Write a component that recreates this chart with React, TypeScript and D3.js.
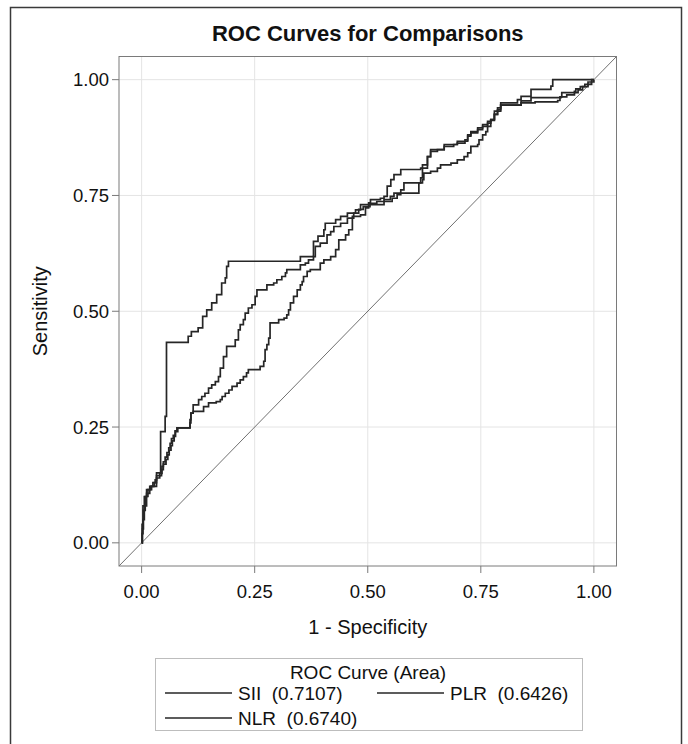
import React from "react";
import * as d3 from "d3";

type Pt = [number, number];

const TITLE = "ROC Curves for Comparisons";
const X_LABEL = "1 - Specificity";
const Y_LABEL = "Sensitivity";
const TICKS = [0, 0.25, 0.5, 0.75, 1];
const LEGEND_TITLE = "ROC Curve (Area)";
const SERIES_NAMES = ["SII", "NLR", "PLR"];
const SERIES_AUC = ["0.7107", "0.6740", "0.6426"];

const SII: Pt[] = [
  [0, 0], [0.001, 0.04], [0.003, 0.08], [0.006, 0.1], [0.011, 0.115], [0.02, 0.122], [0.033, 0.151],
  [0.042, 0.24], [0.052, 0.273], [0.055, 0.433], [0.103, 0.446], [0.11, 0.456], [0.125, 0.464],
  [0.135, 0.489], [0.144, 0.503], [0.155, 0.518], [0.166, 0.536], [0.177, 0.561], [0.185, 0.572],
  [0.188, 0.597], [0.192, 0.608], [0.351, 0.618], [0.38, 0.651], [0.39, 0.662], [0.403, 0.676],
  [0.406, 0.69], [0.429, 0.698], [0.44, 0.705], [0.455, 0.712], [0.473, 0.719], [0.484, 0.73],
  [0.502, 0.734], [0.506, 0.741], [0.528, 0.744], [0.536, 0.748], [0.543, 0.77], [0.551, 0.784],
  [0.558, 0.795], [0.573, 0.806], [0.617, 0.809], [0.621, 0.816], [0.632, 0.834], [0.639, 0.849],
  [0.669, 0.86], [0.698, 0.867], [0.721, 0.881], [0.728, 0.888], [0.743, 0.896], [0.754, 0.903],
  [0.765, 0.91], [0.772, 0.914], [0.78, 0.932], [0.787, 0.939], [0.794, 0.95], [0.831, 0.957],
  [0.839, 0.964], [0.861, 0.979], [0.905, 0.986], [0.909, 1.0], [1, 1],
];

const NLR: Pt[] = [
  [0, 0], [0.002, 0.03], [0.004, 0.07], [0.008, 0.1], [0.011, 0.107], [0.018, 0.122], [0.025, 0.13],
  [0.03, 0.136], [0.033, 0.145], [0.04, 0.15], [0.045, 0.165], [0.048, 0.175], [0.052, 0.185],
  [0.056, 0.195], [0.06, 0.205], [0.063, 0.215], [0.066, 0.225], [0.07, 0.232], [0.074, 0.242],
  [0.078, 0.248], [0.107, 0.259], [0.109, 0.28], [0.114, 0.298], [0.126, 0.309], [0.133, 0.316],
  [0.14, 0.323], [0.148, 0.334], [0.155, 0.341], [0.163, 0.348], [0.17, 0.359], [0.174, 0.377],
  [0.181, 0.402], [0.188, 0.424], [0.207, 0.438], [0.214, 0.46], [0.218, 0.471], [0.225, 0.482],
  [0.229, 0.496], [0.236, 0.507], [0.244, 0.514], [0.251, 0.532], [0.255, 0.546], [0.277, 0.557],
  [0.292, 0.561], [0.299, 0.568], [0.31, 0.575], [0.318, 0.583], [0.321, 0.59], [0.351, 0.6],
  [0.362, 0.604], [0.369, 0.611], [0.38, 0.618], [0.384, 0.64], [0.395, 0.647], [0.41, 0.665],
  [0.418, 0.672], [0.425, 0.683], [0.44, 0.69], [0.455, 0.701], [0.469, 0.712], [0.48, 0.72],
  [0.49, 0.726], [0.505, 0.733], [0.52, 0.737], [0.536, 0.741], [0.55, 0.748], [0.558, 0.755],
  [0.573, 0.762], [0.58, 0.777], [0.617, 0.788], [0.621, 0.809], [0.632, 0.834], [0.639, 0.845],
  [0.654, 0.849], [0.669, 0.856], [0.69, 0.86], [0.698, 0.863], [0.715, 0.87], [0.721, 0.878],
  [0.728, 0.885], [0.743, 0.892], [0.754, 0.899], [0.765, 0.906], [0.772, 0.912], [0.78, 0.925],
  [0.787, 0.932], [0.794, 0.945], [0.839, 0.954], [0.861, 0.961], [0.927, 0.963], [0.929, 0.972],
  [0.957, 0.975], [0.96, 0.98], [0.97, 0.985], [0.98, 0.99], [0.987, 0.995], [1, 1],
];

const PLR: Pt[] = [
  [0, 0], [0.001, 0.02], [0.003, 0.05], [0.006, 0.08], [0.011, 0.1], [0.014, 0.115], [0.022, 0.122],
  [0.028, 0.13], [0.033, 0.14], [0.04, 0.145], [0.044, 0.158], [0.048, 0.17], [0.054, 0.18],
  [0.058, 0.19], [0.061, 0.2], [0.065, 0.21], [0.068, 0.22], [0.072, 0.23], [0.075, 0.24],
  [0.08, 0.248], [0.107, 0.266], [0.109, 0.28], [0.114, 0.284], [0.137, 0.294], [0.148, 0.302],
  [0.165, 0.305], [0.174, 0.309], [0.178, 0.316], [0.185, 0.323], [0.193, 0.33], [0.2, 0.338],
  [0.211, 0.345], [0.218, 0.352], [0.225, 0.359], [0.232, 0.367], [0.236, 0.374], [0.262, 0.381],
  [0.27, 0.392], [0.273, 0.417], [0.277, 0.428], [0.281, 0.442], [0.284, 0.475], [0.303, 0.482],
  [0.315, 0.485], [0.321, 0.492], [0.325, 0.503], [0.329, 0.518], [0.336, 0.532], [0.344, 0.546],
  [0.351, 0.557], [0.355, 0.564], [0.358, 0.575], [0.366, 0.586], [0.373, 0.59], [0.395, 0.604],
  [0.403, 0.611], [0.418, 0.618], [0.429, 0.633], [0.436, 0.654], [0.451, 0.665], [0.458, 0.676],
  [0.466, 0.705], [0.484, 0.708], [0.495, 0.723], [0.502, 0.73], [0.536, 0.737], [0.554, 0.744],
  [0.565, 0.752], [0.573, 0.755], [0.613, 0.777], [0.621, 0.784], [0.624, 0.798], [0.639, 0.802],
  [0.654, 0.809], [0.661, 0.816], [0.684, 0.82], [0.698, 0.827], [0.713, 0.834], [0.721, 0.842],
  [0.728, 0.856], [0.743, 0.86], [0.746, 0.87], [0.754, 0.881], [0.761, 0.888], [0.765, 0.899],
  [0.772, 0.914], [0.78, 0.925], [0.787, 0.935], [0.794, 0.945], [0.839, 0.95], [0.87, 0.952],
  [0.92, 0.955], [0.925, 0.963], [0.94, 0.967], [0.957, 0.972], [0.965, 0.978], [0.975, 0.985],
  [0.987, 0.99], [0.995, 1.0], [1, 1],
];

const DOMAIN: [number, number] = [-0.05, 1.05];

export default function App() {
  const W = 688, H = 744;
  const L = 119, R = 616.5, T = 56.5, B = 566;
  const x = d3.scaleLinear().domain(DOMAIN).range([L, R]);
  const y = d3.scaleLinear().domain(DOMAIN).range([B, T]);
  const line = d3.line<Pt>().x(d => x(d[0])).y(d => y(d[1])).curve(d3.curveStepAfter);
  const font = "'Liberation Sans', Arial, sans-serif";
  const curveColor = "#262626";
  const series = [SII, NLR, PLR];
  const cx = (L + R) / 2;

  return (
    <svg width={W} height={H} style={{ position: "absolute", left: 0, top: 0, background: "#fff" }} fontFamily={font}>
      <rect x={0} y={0} width={W} height={H} fill="#fff" />
      <rect x={10.5} y={7.5} width={671} height={760} fill="none" stroke="#3a3a3a" strokeWidth={1.5} />
      <text x={cx} y={41} textAnchor="middle" fontSize={22} fontWeight="bold" fill="#111">{TITLE}</text>

      {TICKS.map(t => (
        <g key={"g" + t}>
          <line x1={x(t)} x2={x(t)} y1={T} y2={B} stroke="#e4e4e4" strokeWidth={1} />
          <line x1={L} x2={R} y1={y(t)} y2={y(t)} stroke="#e4e4e4" strokeWidth={1} />
        </g>
      ))}

      <line x1={x(DOMAIN[0])} y1={y(DOMAIN[0])} x2={x(DOMAIN[1])} y2={y(DOMAIN[1])} stroke="#707070" strokeWidth={1} />

      {series.map((s, i) => (
        <path key={i} d={line(s) || ""} fill="none" stroke={curveColor} strokeWidth={1.7} />
      ))}

      <rect x={L} y={T} width={R - L} height={B - T} fill="none" stroke="#7a7a7a" strokeWidth={1} />

      {TICKS.map(t => (
        <g key={"x" + t}>
          <line x1={x(t)} x2={x(t)} y1={B} y2={B + 7} stroke="#7a7a7a" />
          <text x={x(t)} y={B + 32} textAnchor="middle" fontSize={18.5} fill="#111">{t.toFixed(2)}</text>
        </g>
      ))}
      {TICKS.map(t => (
        <g key={"y" + t}>
          <line x1={L - 7} x2={L} y1={y(t)} y2={y(t)} stroke="#7a7a7a" />
          <text x={L - 10} y={y(t) + 6.5} textAnchor="end" fontSize={18.5} fill="#111">{t.toFixed(2)}</text>
        </g>
      ))}

      <text x={cx} y={634} textAnchor="middle" fontSize={20} fill="#111">{X_LABEL}</text>
      <text transform={`translate(47,${(T + B) / 2}) rotate(-90)`} textAnchor="middle" fontSize={20} fill="#111">{Y_LABEL}</text>

      <rect x={155.5} y={658.5} width={427} height={72} fill="none" stroke="#bdbdbd" strokeWidth={1} />
      <text x={368} y={679} textAnchor="middle" fontSize={19} fill="#111">{LEGEND_TITLE}</text>
      {[0, 1, 2].map(i => {
        const pos = i === 0 ? [165, 693] : i === 1 ? [165, 718] : [377, 693];
        return (
          <g key={"l" + i}>
            <line x1={pos[0]} x2={pos[0] + 67} y1={pos[1]} y2={pos[1]} stroke={curveColor} strokeWidth={1.7} />
            <text x={pos[0] + 73} y={pos[1] + 7} fontSize={19} fill="#111">
              {`${SERIES_NAMES[i]}\u00A0\u00A0(${SERIES_AUC[i]})`}
            </text>
          </g>
        );
      })}
    </svg>
  );
}
